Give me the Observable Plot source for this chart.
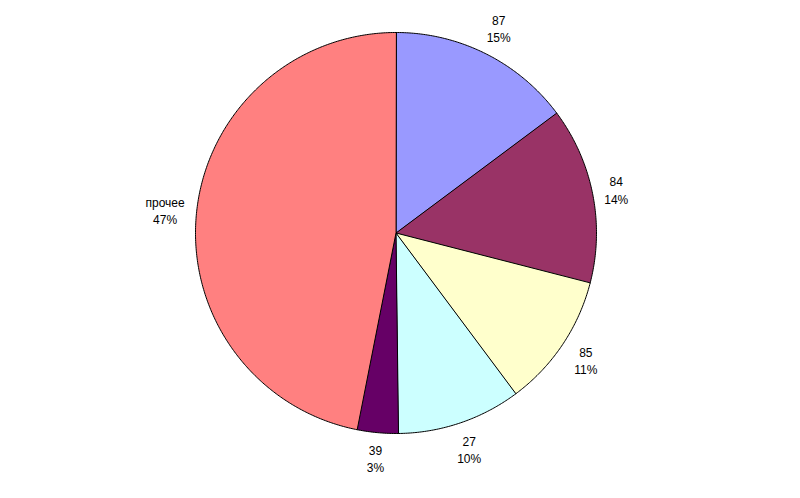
<!DOCTYPE html>
<html>
<head>
<meta charset="utf-8">
<script src="https://cdn.jsdelivr.net/npm/d3@7"></script>
<script src="https://cdn.jsdelivr.net/npm/@observablehq/plot@0.6"></script>
<style>
  html, body { margin: 0; padding: 0; background: #ffffff; }
  #chart svg { display: block; }
</style>
</head>
<body>
<div id="chart"></div>
<script>
const categories = ["87", "84", "85", "27", "39", "прочее"];
const values = [14.8, 14.2, 10.8, 10.0, 3.3, 46.9];
const colors = ["#9999FF", "#993366", "#FFFFCC", "#CCFFFF", "#660066", "#FF8080"];

const W = 800, H = 498;
const cx = 395.5, cy = 232.5, R = 200.5; // pixel layout of the pie
const total = d3.sum(values);

// angles measured clockwise from top
const slices = [];
let acc = 0;
values.forEach((v, i) => {
  const a0 = acc / total * 2 * Math.PI;
  acc += v;
  const a1 = acc / total * 2 * Math.PI;
  slices.push({cat: categories[i], value: v, color: colors[i], a0, a1,
    pct: Math.round(v / total * 100) + "%"});
});

// polygon points in data units (radius 1)
const pts = [];
slices.forEach(s => {
  pts.push({cat: s.cat, color: s.color, x: 0, y: 0});
  const n = Math.max(2, Math.ceil((s.a1 - s.a0) / (Math.PI / 360)));
  for (let k = 0; k <= n; k++) {
    const a = s.a0 + (s.a1 - s.a0) * k / n;
    pts.push({cat: s.cat, color: s.color, x: Math.sin(a), y: Math.cos(a)});
  }
});

// label positions: box kept a small gap outside the rim
const labels = slices.map(s => {
  const m = (s.a0 + s.a1) / 2;
  const w = s.cat.length > 3 ? 46 : 28, h = 34;
  const ext = Math.abs(Math.sin(m)) * w / 2 + Math.abs(Math.cos(m)) * h / 2;
  const r = 1 + (7 + ext) / R;
  return {x: Math.sin(m) * r, y: Math.cos(m) * r, text: s.cat + "\n" + s.pct};
});

const chart = Plot.plot({
  width: W,
  height: H,
  margin: 0,
  style: {fontFamily: "'Liberation Sans', Arial, sans-serif", fontSize: "12px", background: "#ffffff"},
  x: {domain: [-cx / R, (W - cx) / R], axis: null},
  y: {domain: [-(H - cy) / R, cy / R], axis: null},
  color: {type: "identity"},
  marks: [
    Plot.line(pts, {x: "x", y: "y", z: "cat", fill: "color", stroke: "#000000", strokeWidth: 1, curve: "linear-closed"}),
    Plot.text(labels, {x: "x", y: "y", text: "text", fill: "#000000", fontSize: 12, lineHeight: 1.42, textAnchor: "middle", lineAnchor: "middle"})
  ]
});
document.getElementById("chart").appendChild(chart);
</script>
</body>
</html>
